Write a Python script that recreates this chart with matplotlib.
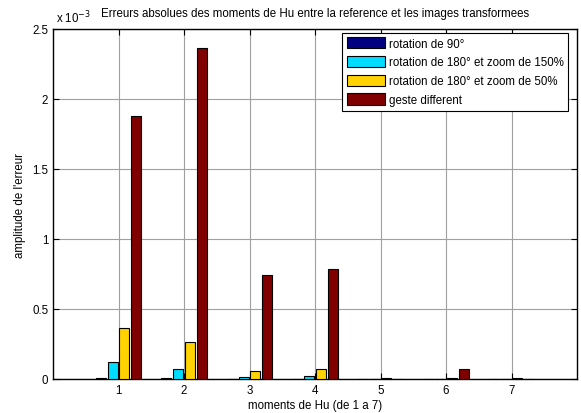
import matplotlib
matplotlib.use("Agg")
import matplotlib.pyplot as plt
import numpy as np
from matplotlib.ticker import FuncFormatter

plt.rcParams['font.family'] = ['Liberation Sans', 'DejaVu Sans']

moments = [1, 2, 3, 4, 5, 6, 7]
series_labels = ["rotation de 90°",
                 "rotation de 180° et zoom de 150%",
                 "rotation de 180° et zoom de 50%",
                 "geste different"]
rot90 = [0.004e-3, 0.004e-3, 0.003e-3, 0.003e-3, 0.002e-3, 0.002e-3, 0.002e-3]
rot180_z150 = [0.124e-3, 0.074e-3, 0.014e-3, 0.021e-3, 0.003e-3, 0.003e-3, 0.003e-3]
rot180_z50 = [0.366e-3, 0.264e-3, 0.055e-3, 0.069e-3, 0.004e-3, 0.004e-3, 0.004e-3]
geste = [1.88e-3, 2.366e-3, 0.743e-3, 0.786e-3, 0.003e-3, 0.074e-3, 0.003e-3]
series = [rot90, rot180_z150, rot180_z50, geste]
colors = ['#000080', '#00dcff', '#ffd200', '#800000']
yticks = [0, 0.5e-3, 1e-3, 1.5e-3, 2e-3, 2.5e-3]

FS = 8.3
fig = plt.figure(figsize=(5.81, 4.14), dpi=100)
ax = fig.add_axes([53/581, 34/414, 524/581, 350/414])

x = np.array(moments, dtype=float)
offsets = [-0.27, -0.09, 0.09, 0.27]
w = 0.155
for vals, off, col, lab in zip(series, offsets, colors, series_labels):
    ax.bar(x + off, vals, width=w, color=col, edgecolor='black', linewidth=0.8,
           label=lab, zorder=3)

ax.set_xlim(0, 8)
ax.set_ylim(0, 2.5e-3)
ax.set_xticks(moments)
ax.set_yticks(yticks)
ax.yaxis.set_major_formatter(FuncFormatter(lambda v, p: ('%g' % round(v * 1e3, 3))))
ax.grid(True, color='#a0a0a0', linewidth=0.8, zorder=0)
ax.set_axisbelow(True)
ax.tick_params(direction='in', top=True, right=True, length=4, labelsize=FS, width=0.8)
for s in ax.spines.values():
    s.set_linewidth(1.0)

ax.set_title("Erreurs absolues des moments de Hu entre la reference et les images transformees",
             fontsize=FS, pad=9)
ax.set_xlabel("moments de Hu (de 1 a 7)", fontsize=FS, labelpad=2)
ax.set_ylabel("amplitude de l'erreur", fontsize=FS, labelpad=4)
ax.text(0.005, 1.012, r"x 10$^{-3}$", transform=ax.transAxes, fontsize=FS,
        ha='left', va='bottom')

leg = ax.legend(loc='upper right', bbox_to_anchor=(0.983, 0.99), fontsize=FS,
                frameon=True, fancybox=False, edgecolor='black', framealpha=1,
                handlelength=3.3, handleheight=1.1, handletextpad=0.3,
                labelspacing=0.55, borderpad=0.4, borderaxespad=0)
leg.get_frame().set_linewidth(0.8)

fig.savefig("out.png", dpi=100)
